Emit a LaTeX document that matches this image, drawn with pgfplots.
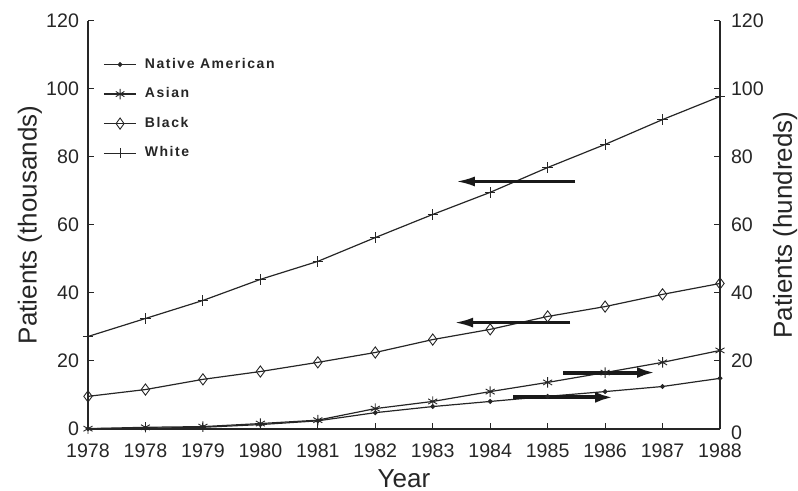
\documentclass[border=0pt]{standalone}
\usepackage{fontspec}
\setmainfont{Liberation Sans}
\newfontfamily\legfont[LetterSpace=11]{Liberation Sans}
\usepackage{pgfplots}
\pgfplotsset{compat=1.18}
\usetikzlibrary{arrows.meta}

% Patient counts by group; x = 0..11 are the year slots on the axis
\begin{document}
\begin{tikzpicture}
\useasboundingbox (-44pt,-31pt) rectangle (355pt,214.5pt);
\begin{axis}[
  at={(0,0)}, anchor=south west,
  scale only axis, width=316pt, height=204pt,
  xmin=0, xmax=11, ymin=0, ymax=120,
  axis x line*=bottom, axis y line*=left,
  axis line style={line width=0.6pt, -, black!85},
  xtick={0,...,11},
  xticklabels={1978,1978,1979,1980,1981,1982,1983,1984,1985,1986,1987,1988},
  ytick={0,20,...,120},
  tick align=inside, major tick length=3pt,
  tick style={line width=0.5pt, black!85},
  ticklabel style={font=\fontsize{9.8}{11}\selectfont, text=black!85},
  xticklabel style={yshift=-4pt},
  yticklabel style={xshift=-1pt},
  /pgf/number format/assume math mode=true,
  xlabel={Year}, ylabel={Patients (thousands)},
  label style={font=\fontsize{13}{14}\selectfont, text=black!85},
  xlabel style={at={(axis description cs:0.5,0)}, anchor=center, yshift=-25pt},
  ylabel style={at={(axis description cs:-0.0918,0.5)}, anchor=center},
  legend style={draw=none, fill=none, at={(axis description cs:0.014,0.93)},
    anchor=north west, font=\legfont\bfseries\fontsize{7}{8}\selectfont,
    row sep=4.2pt, text=black!85, nodes={inner xsep=4pt}},
  legend cell align=left,
  legend image post style={xscale=0.95},
  every axis plot/.append style={line width=0.6pt, black!85},
]
\addplot[mark=*, mark size=0.9pt] coordinates {
  (0,0.1) (1,0.2) (2,0.5) (3,1.3) (4,2.4) (5,4.8)
  (6,6.6) (7,8.1) (8,9.6) (9,11.0) (10,12.5) (11,14.9)};
\addlegendentry{Native American}
\addplot[mark=asterisk, mark size=2.6pt, mark options={line width=0.45pt}] coordinates {
  (0,0.1) (1,0.5) (2,0.7) (3,1.6) (4,2.6) (5,6.0)
  (6,8.1) (7,11.0) (8,13.7) (9,16.6) (10,19.6) (11,23.1)};
\addlegendentry{Asian}
\addplot[mark=diamond, mark size=2.8pt, mark options={line width=0.45pt, fill=white}] coordinates {
  (0,9.6) (1,11.6) (2,14.6) (3,16.9) (4,19.6) (5,22.5)
  (6,26.3) (7,29.3) (8,33.1) (9,36.0) (10,39.6) (11,42.8)};
\addlegendentry{Black}
\addplot[mark=+, mark size=2.6pt, mark options={line width=0.45pt}] coordinates {
  (0,27.2) (1,32.5) (2,37.8) (3,44.0) (4,49.3) (5,56.3)
  (6,63.1) (7,69.6) (8,76.9) (9,83.7) (10,91.0) (11,97.8)};
\addlegendentry{White}

% arrows telling which scale each curve belongs to
\draw[line width=1.1pt, black!90, -{Latex[length=9pt, width=5pt]}]
  (axis cs:8.48,72.8) -- (axis cs:6.42,72.8);
\draw[line width=1.1pt, black!90, -{Latex[length=9pt, width=5pt]}]
  (axis cs:8.39,31.3) -- (axis cs:6.39,31.3);
\draw[line width=2pt, black!90, -{Latex[length=9pt, width=5.5pt]}]
  (axis cs:8.27,16.6) -- (axis cs:9.87,16.6);
\draw[line width=2pt, black!90, -{Latex[length=9pt, width=5.5pt]}]
  (axis cs:7.40,9.3) -- (axis cs:9.14,9.3);
\end{axis}

\begin{axis}[
  at={(0,0)}, anchor=south west,
  scale only axis, width=316pt, height=204pt,
  xmin=0, xmax=11, ymin=0, ymax=120,
  axis x line=none, axis y line*=right,
  axis line style={line width=0.6pt, -, black!85},
  ytick={20,40,...,120},
  extra y ticks={0},
  extra y tick style={yticklabel style={yshift=-2pt}},
  tick align=inside, major tick length=3pt,
  tick style={line width=0.5pt, black!85},
  ticklabel style={font=\fontsize{9.8}{11}\selectfont, text=black!85},
  yticklabel style={xshift=2pt},
  /pgf/number format/assume math mode=true,
  ylabel={Patients (hundreds)},
  label style={font=\fontsize{13}{14}\selectfont, text=black!85},
  ylabel style={at={(axis description cs:1.103,0.5)}, anchor=center},
]
\end{axis}
\end{tikzpicture}
\end{document}
